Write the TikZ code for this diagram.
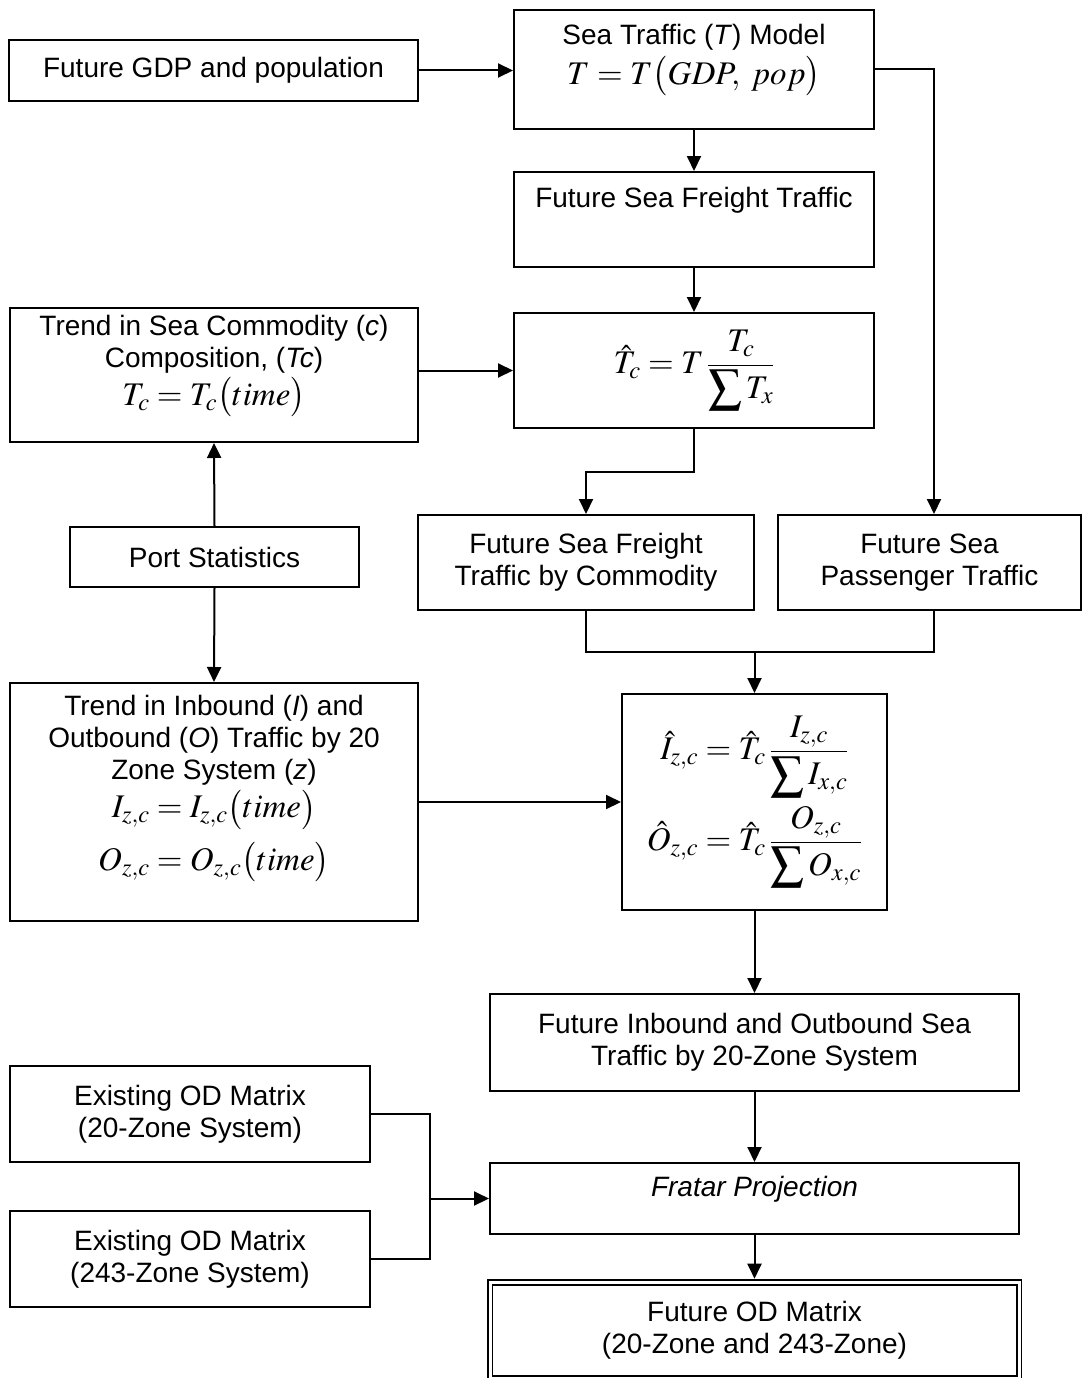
\documentclass[tikz,border=0pt]{standalone}
\usepackage{amsmath}
\usepackage{mathptmx}
\usepackage[no-math]{fontspec}
\setmainfont{Liberation Sans}
\usepackage{tikz}
\usetikzlibrary{arrows.meta}
\usetikzlibrary{calc}

% formulas are set a little larger than the text
\newcommand{\eqn}[1]{{\fontsize{33}{36}\selectfont$#1$}}

\begin{document}
\begin{tikzpicture}[
		x=1pt, y=-1pt,
		block/.style={
			rectangle, draw=black, line width=2pt, fill=white,
			inner sep=2pt, align=center,
			font=\fontsize{28}{32}\selectfont
		},
		lifted/.style={text depth=#1},
		flow/.style={
			line width=2pt, -{Triangle[length=15pt, width=14pt]}
		},
		link/.style={line width=2pt}
		]
		
		\useasboundingbox (0,0) rectangle (1082,1378);
		
		\node[block, minimum width=409pt, minimum height=61pt]  (gdp)       at (213.5, 70.5)  {Future GDP and population};
		\node[block, minimum width=360pt, minimum height=119pt, lifted=30pt] (model) at (694, 69.5) {Sea Traffic (\textit{T}) Model\\[5pt] \eqn{T = T\bigl(GDP,\; pop\bigr)}};
		\node[block, minimum width=360pt, minimum height=95pt, lifted=44pt]  (freight) at (694, 219.5) {Future Sea Freight Traffic};
		\node[block, minimum width=408pt, minimum height=134pt, lifted=30pt] (trend) at (214, 375) {Trend in Sea Commodity (\textit{c})\\ Composition, (\textit{Tc})\\[3pt] \eqn{T_c = T_c\bigl(time\bigr)}};
		\node[block, minimum width=360pt, minimum height=115pt] (share)     at (694, 370.5)   {\eqn{\displaystyle \hat{T}_c = T\,\frac{T_c}{\displaystyle\sum T_x}}};
		\node[block, minimum width=289pt, minimum height=60pt]  (port)      at (214.5, 557)   {Port Statistics};
		\node[block, minimum width=336pt, minimum height=95pt]  (cfreight)  at (586, 562.5)   {Future Sea Freight\\ Traffic by Commodity};
		\node[block, minimum width=303pt, minimum height=95pt]  (passenger) at (929.5, 562.5) {Future Sea\\ Passenger Traffic};
		\node[block, minimum width=408pt, minimum height=238pt, lifted=38pt] (inbound) at (214, 802) {Trend in Inbound (\textit{I}) and\\ Outbound (\textit{O}) Traffic by 20\\ Zone System (\textit{z})\\[3pt] \eqn{I_{z,c} = I_{z,c}\bigl(time\bigr)}\\[12pt] \eqn{O_{z,c} = O_{z,c}\bigl(time\bigr)}};
		\node[block, minimum width=265pt, minimum height=216pt] (split)     at (754.5, 802)   {\eqn{\displaystyle \hat{I}_{z,c} = \hat{T}_c\,\frac{I_{z,c}}{\displaystyle\sum I_{x,c}}}\\[8pt] \eqn{\displaystyle \hat{O}_{z,c} = \hat{T}_c\,\frac{O_{z,c}}{\displaystyle\sum O_{x,c}}}};
		\node[block, minimum width=529pt, minimum height=97pt]  (zonal)     at (754.5, 1042.5) {Future Inbound and Outbound Sea\\ Traffic by 20-Zone System};
		\node[block, minimum width=360pt, minimum height=96pt]  (od20)      at (190, 1114)    {Existing OD Matrix\\ (20-Zone System)};
		\node[block, minimum width=529pt, minimum height=71pt, lifted=24pt] (fratar) at (754.5, 1198.5) {\textit{Fratar Projection}};
		\node[block, minimum width=360pt, minimum height=96pt]  (od243)     at (190, 1259)    {Existing OD Matrix\\ (243-Zone System)};
		\node[block, minimum width=529pt, minimum height=96pt,
			line width=1.6pt, double, double distance=3pt] (future) at (754.5, 1330.5) {Future OD Matrix\\ (20-Zone and 243-Zone)};
		
		\coordinate (merge) at (754.5, 652);
		\coordinate (join)  at (430, 1198.5);
		
		\draw[flow] (gdp.east) -- (model.west |- gdp.east);
		\draw[flow] (model.south) -- (freight.north);
		\draw[flow] (freight.south) -- (share.north);
		\draw[flow] (model.east) -| ($(passenger.north)+(4.5,0)$);
		\draw[flow] (trend.east |- share.west) -- (share.west);
		\draw[flow] (port.north) -- (trend.south);
		\draw[flow] (port.south) -- (inbound.north);
		\draw[flow] (share.south) -- ++(0,43) -| (cfreight.north);
		\draw[link] (cfreight.south) |- (merge) -| ($(passenger.south)+(4.5,0)$);
		\draw[flow] (merge) -- (split.north);
		\draw[flow] (inbound.east) -- (split.west);
		\draw[flow] (split.south) -- (zonal.north);
		\draw[flow] (zonal.south) -- (fratar.north);
		\draw[flow, shorten >=3pt] (fratar.south) -- (future.north);
		\draw[link] (od20.east) -| (join);
		\draw[link] (od243.east) -| (join);
		\draw[flow] (join) -- (fratar.west);
		
	\end{tikzpicture}
\end{document}
